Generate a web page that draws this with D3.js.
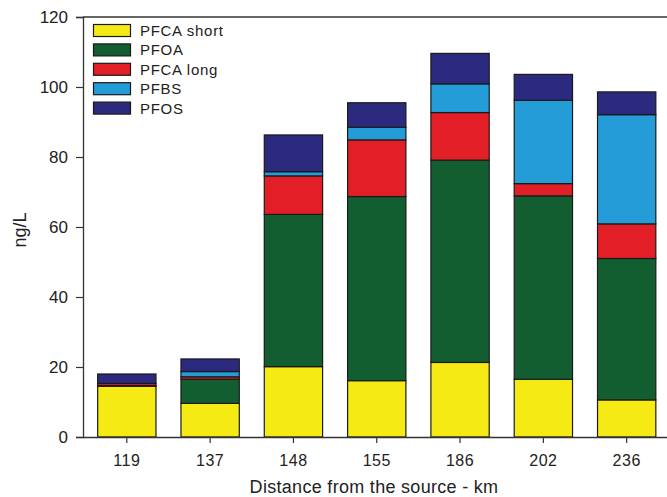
<!DOCTYPE html>
<html>
<head>
<meta charset="utf-8">
<script src="https://cdn.jsdelivr.net/npm/d3@7"></script>
<style>
  html, body { margin: 0; padding: 0; background: #fff; }
  svg { display: block; font-family: "Liberation Sans", Arial, sans-serif; }
</style>
</head>
<body>
<svg id="chart" width="667" height="497"></svg>
<script>
// Sampling sites (distance from the source, km)
const categories = ["119", "137", "148", "155", "186", "202", "236"];

// Concentrations in ng/L, stacked bottom to top
const seriesNames = ["PFCA short", "PFOA", "PFCA long", "PFBS", "PFOS"];
const pfcaShort = [14.5, 9.6, 20.1, 16.1, 21.3, 16.5, 10.6];
const pfoa      = [0.2, 6.9, 43.5, 52.6, 57.8, 52.4, 40.4];
const pfcaLong  = [0.6, 0.7, 11.0, 16.2, 13.6, 3.5, 9.9];
const pfbs      = [0.0, 1.5, 1.2, 3.6, 8.2, 23.8, 31.2];
const pfos      = [2.7, 3.6, 10.5, 7.0, 8.7, 7.4, 6.5];

const yTicks = [0, 20, 40, 60, 80, 100, 120];
const colors = ["#f6ea14", "#135e31", "#e21f26", "#239cd8", "#2b2a7f"];

const seriesValues = [pfcaShort, pfoa, pfcaLong, pfbs, pfos];
const rows = categories.map((c, i) => {
  const r = { site: c };
  seriesNames.forEach((s, k) => { r[s] = seriesValues[k][i]; });
  return r;
});

const svg = d3.select("#chart");
const plotLeft = 83, plotRight = 670.5, plotTop = 17, plotBottom = 437;

const x = d3.scaleBand().domain(categories).range([plotLeft, plotRight])
  .paddingInner(0.3).paddingOuter(0.176);
const y = d3.scaleLinear().domain([0, 120]).range([plotBottom, plotTop]);
const color = d3.scaleOrdinal().domain(seriesNames).range(colors);

const stacked = d3.stack().keys(seriesNames)(rows);

// Stacked bars
svg.append("g").selectAll("g").data(stacked).join("g")
  .attr("fill", d => color(d.key))
  .selectAll("rect").data(d => d).join("rect")
  .attr("x", d => x(d.data.site))
  .attr("width", x.bandwidth())
  .attr("y", d => y(d[1]))
  .attr("height", d => y(d[0]) - y(d[1]))
  .attr("stroke", "#1a1a1a")
  .attr("stroke-width", 1.2);

const textColor = "#222";

// Frame top line
svg.append("line").attr("x1", plotLeft).attr("x2", 667).attr("y1", plotTop).attr("y2", plotTop)
  .attr("stroke", "#333").attr("stroke-width", 1.3);

// Y axis
const yAxis = svg.append("g").attr("transform", `translate(${plotLeft},0)`)
  .call(d3.axisLeft(y).tickValues(yTicks).tickSize(7).tickPadding(8));
yAxis.select(".domain").attr("stroke", "#333").attr("stroke-width", 1.3);
yAxis.selectAll(".tick line").attr("stroke", "#333").attr("stroke-width", 1.2);
yAxis.selectAll(".tick text").attr("font-size", 17).attr("fill", textColor)
  .attr("font-family", "'Liberation Sans', Arial, sans-serif");

// X axis
const xAxis = svg.append("g").attr("transform", `translate(0,${plotBottom})`)
  .call(d3.axisBottom(x).tickSize(6).tickPadding(12).tickSizeOuter(0));
xAxis.select(".domain").attr("d", `M${plotLeft},0.5H667`).attr("stroke", "#333").attr("stroke-width", 1.3);
xAxis.selectAll(".tick line").attr("stroke", "#333").attr("stroke-width", 1.2);
xAxis.selectAll(".tick text").attr("font-size", 16).attr("fill", textColor)
  .attr("letter-spacing", "0.5px")
  .attr("font-family", "'Liberation Sans', Arial, sans-serif");

// Axis titles
svg.append("text").attr("x", 374).attr("y", 493).attr("text-anchor", "middle")
  .attr("font-size", 18).attr("fill", textColor).attr("letter-spacing", "0.3px")
  .text("Distance from the source - km");
svg.append("text").attr("transform", "translate(26,230) rotate(-90)")
  .attr("text-anchor", "middle").attr("font-size", 18).attr("fill", textColor)
  .text("ng/L");

// Legend
const legend = svg.append("g");
seriesNames.forEach((s, i) => {
  const cy = 30.5 + i * 19.4;
  legend.append("rect").attr("x", 93.5).attr("y", cy - 6).attr("width", 37).attr("height", 12)
    .attr("fill", color(s)).attr("stroke", "#1a1a1a").attr("stroke-width", 1.2);
  legend.append("text").attr("x", 140).attr("y", cy + 5.5)
    .attr("font-size", 15).attr("letter-spacing", "0.7px").attr("fill", textColor).text(s);
});
</script>
</body>
</html>
